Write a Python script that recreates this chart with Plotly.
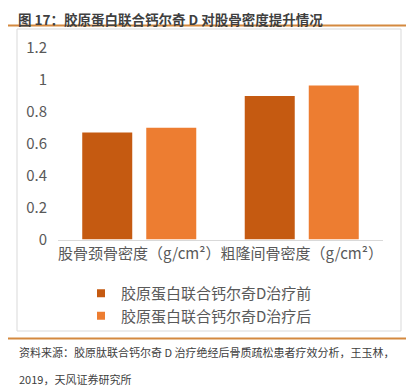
import plotly.graph_objects as go

categories = ["股骨颈骨密度（g/cm²）", "粗隆间骨密度（g/cm²）"]
series_names = ["胶原蛋白联合钙尔奇D治疗前", "胶原蛋白联合钙尔奇D治疗后"]
series_colors = ["#C55A11", "#ED7D31"]
before_values = [0.67, 0.90]
after_values = [0.70, 0.965]
y_tick_vals = [0, 0.2, 0.4, 0.6, 0.8, 1.0, 1.2]
y_tick_text = ["0", "0.2", "0.4", "0.6", "0.8", "1", "1.2"]

title_text = "图 17：胶原蛋白联合钙尔奇 D 对股骨密度提升情况"
source_line1 = "资料来源：胶原肽联合钙尔奇 D 治疗绝经后骨质疏松患者疗效分析，王玉林，"
source_line2 = "2019，天风证券研究所"

# page body has an 8px default margin; lay out in page pixels and offset
OFF = 8
W, H = 414 - OFF, 387 - OFF
FONT = "Noto Sans CJK SC"
GREY = "#595959"

def px_x(v):
    return (v - OFF) / W

def px_y(v):
    return 1 - (v - OFF) / H

fig = go.Figure()
for name, vals, col in zip(series_names, [before_values, after_values], series_colors):
    fig.add_trace(go.Bar(x=categories, y=vals, name=name, showlegend=False,
                         marker=dict(color=col, line=dict(width=0))))
# legend entries with small square swatches
for name, col in zip(series_names, series_colors):
    fig.add_trace(go.Scatter(x=[None], y=[None], mode="markers", name=name,
                             marker=dict(symbol="square", size=8, color=col)))

fig.update_layout(
    width=W, height=H,
    margin=dict(l=0, r=0, t=0, b=0, pad=0, autoexpand=False),
    paper_bgcolor="white", plot_bgcolor="white",
    barmode="group", bargap=0.212, bargroupgap=0.219,
    font=dict(family=FONT, color=GREY, size=15),
    showlegend=True,
    legend=dict(
        x=px_x(81), y=px_y(277), xanchor="left", yanchor="top",
        orientation="v", font=dict(size=15, color=GREY, family=FONT),
        itemwidth=30, tracegroupgap=0, bgcolor="rgba(0,0,0,0)",
        traceorder="normal",
    ),
    xaxis=dict(domain=[px_x(58), px_x(383)], showgrid=False, zeroline=False,
               showline=True, linecolor="#D9D9D9", linewidth=1, ticks="",
               tickangle=0, automargin=False,
               tickfont=dict(size=15, color=GREY, family=FONT)),
    yaxis=dict(domain=[px_y(239.5), px_y(48)], range=[0, 1.2],
               tickvals=y_tick_vals, ticktext=y_tick_text, automargin=False,
               showgrid=False, zeroline=False, showline=False, ticks="",
               ticklabelstandoff=10,
               tickfont=dict(size=15, color=GREY, family=FONT)),
)

shapes = [
    dict(type="rect", xref="paper", yref="paper",
         x0=px_x(17), x1=px_x(401), y0=px_y(331), y1=px_y(29),
         line=dict(color="#D9D9D9", width=1), fillcolor="rgba(0,0,0,0)", layer="below"),
    dict(type="line", xref="paper", yref="paper",
         x0=px_x(8), x1=px_x(408), y0=px_y(25.5), y1=px_y(25.5),
         line=dict(color="#D4893F", width=2)),
    dict(type="line", xref="paper", yref="paper",
         x0=px_x(8), x1=px_x(408), y0=px_y(338.5), y1=px_y(338.5),
         line=dict(color="#D4893F", width=2)),
]
fig.update_layout(shapes=shapes)

annotations = [
    dict(text="<b>" + title_text + "</b>", xref="paper", yref="paper",
         x=px_x(17), y=px_y(8), xanchor="left", yanchor="top",
         showarrow=False, borderpad=0,
         font=dict(size=13.5, color="#3F3F3F", family=FONT)),
    dict(text=source_line1, xref="paper", yref="paper",
         x=px_x(17), y=px_y(352), xanchor="left", yanchor="middle",
         showarrow=False, font=dict(size=11, color="#404040", family=FONT)),
    dict(text=source_line2, xref="paper", yref="paper",
         x=px_x(17), y=px_y(379), xanchor="left", yanchor="middle",
         showarrow=False, font=dict(size=11, color="#404040", family=FONT)),
]
fig.update_layout(annotations=annotations)

fig.write_html("out.html")
